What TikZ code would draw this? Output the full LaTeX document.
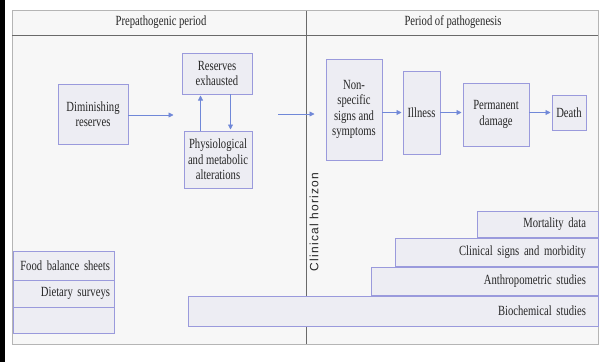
\documentclass[tikz,border=0pt]{standalone}
\usepackage{fontspec}
\setmainfont[FakeStretch=0.76]{Liberation Serif}
\newfontfamily\hzfont[LetterSpace=10]{Liberation Sans}
\usetikzlibrary{arrows.meta}
\definecolor{boxline}{HTML}{9A9ADC}
\definecolor{boxfill}{HTML}{EDEDF3}
\definecolor{arrowc}{HTML}{7088D8}
\definecolor{ink}{HTML}{262626}
\definecolor{page}{HTML}{F7F7F7}
\definecolor{rulec}{HTML}{6A6A6A}
\begin{document}
\begin{tikzpicture}[x=1pt,y=-1pt,
  txt/.style={text=ink, font=\fontsize{14}{15.5}\selectfont},
  box/.style={txt, draw=boxline, fill=boxfill, line width=0.8pt, inner sep=0pt, outer sep=0pt, align=center},
  bar/.style={txt, draw=boxline, fill=boxfill, line width=0.8pt, inner ysep=0pt, outer sep=0pt, align=right, anchor=north west},
  arr/.style={draw=arrowc, line width=0.8pt, shorten >=1.5pt, -{Triangle[length=5pt,width=5pt]}}]
\useasboundingbox (0,0) rectangle (602,362);
% page and frame
\fill[black] (0,0) rectangle (4.5,362);
\filldraw[fill=page, draw=rulec!50, line width=0.6pt] (12,10.5) rectangle (598,344);
\draw[rulec, line width=0.8pt] (12,35) -- (598,35);
\draw[rulec, line width=0.8pt] (306,10.5) -- (306,344);
% headers
\node[txt] (hpre) at (161,22) {Prepathogenic period};
\node[txt] (hpat) at (453,22) {Period of pathogenesis};
% boxes
\node[box, minimum width=70pt, minimum height=60pt] (dim) at (93,114) {Diminishing\\reserves};
\node[box, minimum width=70pt, minimum height=41pt] (resx) at (217,73.5) {Reserves\\exhausted};
\node[box, minimum width=68pt, minimum height=57pt] (phys) at (218,159.5) {Physiological\\and metabolic\\alterations};
\node[box, minimum width=56pt, minimum height=101pt] (nonspec) at (354,109.5) {Non-\\specific\\signs and\\symptoms};
\node[box, minimum width=37pt, minimum height=83pt] (ill) at (421.5,112.5) {Illness};
\node[box, minimum width=66pt, minimum height=63pt] (perm) at (496,114.5) {Permanent\\damage};
\node[box, minimum width=34pt, minimum height=35pt] (death) at (569,112.5) {Death};
% arrows
\coordinate (j1) at (175,115);
\coordinate (ux) at (200.5,0);
\coordinate (dx) at (230.5,0);
\coordinate (j2s) at (278,114);
\coordinate (j2e) at (316,114);
\draw[arr] (dim.east |- j1) -- (j1);
\draw[arr] (phys.north -| ux) -- (resx.south -| ux);
\draw[arr] (resx.south -| dx) -- (phys.north -| dx);
\draw[arr] (j2s) -- (j2e);
\draw[arr] (nonspec.east |- ill.west) -- (ill.west);
\draw[arr] (ill.east) -- (perm.west |- ill.east);
\draw[arr] (perm.east |- death.west) -- (death.west);
% clinical horizon
\node[rotate=90, text=ink, font=\hzfont\fontsize{12}{14}\selectfont] (hz) at (314,222) {Clinical horizon};
% data bars
\node[bar, inner xsep=12pt, text width=97pt, minimum height=26pt] (mort) at (477,211) {Mortality data};
\node[bar, inner xsep=12pt, text width=179pt, minimum height=28pt] (clin) at (395,238) {Clinical signs and morbidity};
\node[bar, inner xsep=12pt, text width=203pt, minimum height=28pt] (anth) at (371,267) {Anthropometric studies};
\node[bar, inner xsep=12pt, text width=386pt, minimum height=30pt] (bioc) at (188,296) {Biochemical studies};
\node[bar, inner xsep=4pt, text width=93pt, minimum height=29pt] (food) at (13,251) {Food balance sheets};
\node[bar, inner xsep=4pt, text width=93pt, minimum height=27pt] (diet) at (13,280) {Dietary surveys};
\node[bar, inner xsep=4pt, text width=93pt, minimum height=26pt] (empty) at (13,307) {};
\end{tikzpicture}
\end{document}
